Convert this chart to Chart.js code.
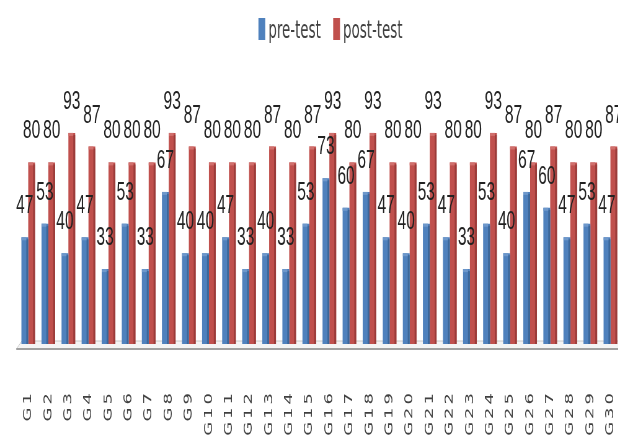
<!DOCTYPE html>
<html>
<head>
<meta charset="utf-8">
<script src="https://cdn.jsdelivr.net/npm/chart.js@4"></script>
<style>
  html, body { margin: 0; padding: 0; background: #fff; width: 618px; height: 441px; overflow: hidden; }
  #wrap { position: relative; width: 618px; height: 441px; overflow: hidden; }
  /* the chart is laid out wide and condensed horizontally */
  #c { position: absolute; left: 0; top: 0; transform: scaleX(0.62); transform-origin: 0 0; }
</style>
</head>
<body>
<div id="wrap"><canvas id="c" width="1052" height="441"></canvas></div>
<script>
// Groups and scores
const groups = ['G1','G2','G3','G4','G5','G6','G7','G8','G9','G10',
                'G11','G12','G13','G14','G15','G16','G17','G18','G19','G20',
                'G21','G22','G23','G24','G25','G26','G27','G28','G29','G30'];
const preTest  = [47, 53, 40, 47, 33, 53, 33, 67, 40, 40,
                  47, 33, 40, 33, 53, 73, 60, 67, 47, 40,
                  53, 47, 33, 53, 40, 67, 60, 47, 53, 47];
const postTest = [80, 80, 93, 87, 80, 80, 80, 93, 87, 80,
                  80, 80, 87, 80, 87, 93, 80, 93, 80, 80,
                  93, 80, 80, 93, 87, 80, 87, 80, 80, 87];
const seriesNames = ['pre-test', 'post-test'];

const fillColors = ['#4F81BD', '#C0504D'];
const sideColors = ['#3C6799', '#9B3C3A'];
const capColors  = ['#6E98CB', '#D06F6C'];

// flat 3D-style floor under the bars
const floorPlugin = {
  id: 'floor',
  beforeDraw(chart) { chart.ctx.letterSpacing = '3px'; },
  beforeDatasetsDraw(chart) {
    const { ctx, chartArea: { left, right, bottom } } = chart;
    ctx.letterSpacing = '0px';
    ctx.save();
    ctx.beginPath();
    ctx.moveTo(left - 3, bottom + 5);
    ctx.lineTo(left + 6, bottom - 3);
    ctx.lineTo(right + 30, bottom - 3);
    ctx.lineTo(right + 30, bottom + 5);
    ctx.closePath();
    ctx.fillStyle = '#F4F4F4';
    ctx.fill();
    ctx.strokeStyle = '#C8C8C8';
    ctx.lineWidth = 1;
    ctx.stroke();
    ctx.beginPath();
    ctx.moveTo(left - 3, bottom + 5);
    ctx.lineTo(right + 30, bottom + 5);
    ctx.strokeStyle = '#A0A0A0';
    ctx.lineWidth = 2;
    ctx.stroke();
    ctx.restore();
  }
};

// shaded side and cap on each bar, then its value above it
const barDecor = {
  id: 'barDecor',
  afterDatasetsDraw(chart) {
    const ctx = chart.ctx;
    ctx.save();
    chart.data.datasets.forEach((ds, di) => {
      const meta = chart.getDatasetMeta(di);
      meta.data.forEach((el) => {
        const { x, y, width, base } = el.getProps(['x', 'y', 'width', 'base'], true);
        const l = x - width / 2;
        ctx.fillStyle = sideColors[di];
        ctx.fillRect(l + width * 0.72, y + 2, width * 0.28, base - y - 2);
        ctx.fillStyle = capColors[di];
        ctx.fillRect(l, y, width * 0.72, 3);
      });
    });
    ctx.fillStyle = '#222';
    ctx.font = '25px "Liberation Sans", Arial, sans-serif';
    ctx.textAlign = 'center';
    ctx.textBaseline = 'alphabetic';
    chart.data.datasets.forEach((ds, di) => {
      const meta = chart.getDatasetMeta(di);
      meta.data.forEach((el, i) => {
        const { x, y } = el.getProps(['x', 'y'], true);
        ctx.fillText(String(ds.data[i]), x, y - 24);
      });
    });
    ctx.restore();
  }
};

// legend drawn centred over the plot
const topLegend = {
  id: 'topLegend',
  afterDraw(chart) {
    const { ctx, chartArea } = chart;
    ctx.save();
    ctx.letterSpacing = '0px';
    ctx.font = '24px "Liberation Sans Narrow", "DejaVu Sans Condensed", sans-serif';
    ctx.textBaseline = 'alphabetic';
    ctx.textAlign = 'left';
    const box = 11, gap = 5, sep = 20;
    const widths = seriesNames.map(n => ctx.measureText(n).width);
    const total = widths.reduce((a, w) => a + box + gap + w, 0) + sep * (seriesNames.length - 1);
    let x = (chartArea.left + chartArea.right) / 2 - total / 2 + 18;
    seriesNames.forEach((n, i) => {
      ctx.fillStyle = fillColors[i];
      ctx.fillRect(x, 18, box, 22);
      x += box + gap;
      ctx.fillStyle = '#404040';
      ctx.fillText(n, x, 38);
      x += widths[i] + sep;
    });
    ctx.restore();
  }
};

new Chart(document.getElementById('c'), {
  type: 'bar',
  data: {
    labels: groups,
    datasets: [
      { label: seriesNames[0], data: preTest, backgroundColor: fillColors[0] },
      { label: seriesNames[1], data: postTest, backgroundColor: fillColors[1] }
    ]
  },
  options: {
    responsive: false,
    animation: false,
    devicePixelRatio: 1,
    events: [],
    layout: { padding: { top: 117, left: 16, right: 6, bottom: 0 } },
    datasets: { bar: { categoryPercentage: 0.68, barPercentage: 1.0 } },
    plugins: { legend: { display: false }, tooltip: { enabled: false } },
    scales: {
      x: {
        grid: { display: false, drawTicks: false },
        border: { display: false },
        ticks: {
          autoSkip: false, minRotation: 90, maxRotation: 90, padding: 46,
          color: '#404040',
          font: { family: 'DejaVu Sans', size: 18 }
        },
        afterFit(scale) { scale.height = 97; }
      },
      y: { display: false, min: 0, max: 100 }
    }
  },
  plugins: [floorPlugin, barDecor, topLegend]
});
</script>
</body>
</html>
